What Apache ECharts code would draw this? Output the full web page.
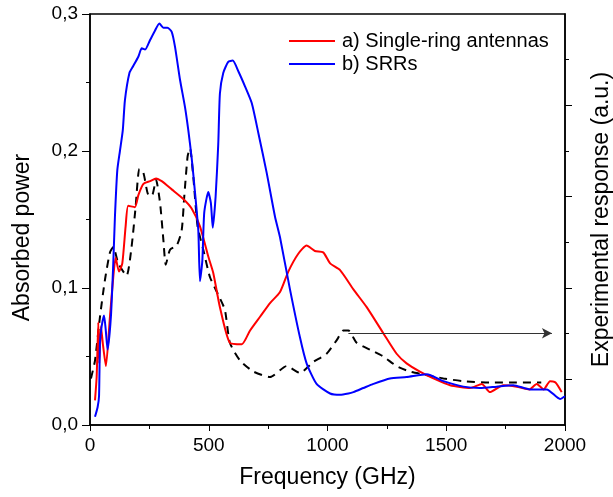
<!DOCTYPE html>
<html>
<head>
<meta charset="utf-8">
<script src="https://cdn.jsdelivr.net/npm/echarts@6/dist/echarts.min.js"></script>
<style>
  html, body { margin: 0; padding: 0; background: #fff; }
  #chart { width: 613px; height: 497px; }
</style>
</head>
<body>
<div id="chart"></div>
<script>
// frequency (GHz) / absorbed power
let redFreq = [21, 28, 35, 39, 46, 55, 67, 84, 98, 108, 122, 136, 150, 161, 189, 204, 225, 253, 278, 302, 344, 393, 428, 463, 498, 519, 547, 589, 639, 674, 716, 758, 800, 835, 877, 912, 947, 982, 1011, 1053, 1109, 1165, 1235, 1291, 1333, 1389, 1446, 1516, 1600, 1650, 1684, 1740, 1796, 1850, 1881, 1910, 1937, 1960, 1986];
let redVal = [0.018, 0.035, 0.075, 0.045, 0.072, 0.058, 0.043, 0.079, 0.108, 0.122, 0.112, 0.118, 0.145, 0.160, 0.159, 0.168, 0.176, 0.178, 0.180, 0.178, 0.172, 0.165, 0.158, 0.145, 0.123, 0.111, 0.086, 0.060, 0.059, 0.069, 0.079, 0.089, 0.097, 0.112, 0.125, 0.131, 0.127, 0.126, 0.118, 0.113, 0.099, 0.086, 0.067, 0.052, 0.045, 0.039, 0.034, 0.029, 0.027, 0.030, 0.024, 0.029, 0.028, 0.026, 0.030, 0.026, 0.032, 0.031, 0.024];

let blueFreq = [21, 32, 38, 42, 49, 59, 66, 74, 88, 98, 105, 115, 126, 138, 147, 166, 182, 204, 218, 232, 253, 274, 292, 309, 326, 344, 358, 379, 400, 414, 428, 442, 456, 463, 473, 481, 498, 509, 517, 529, 540, 547, 561, 582, 601, 625, 653, 681, 709, 744, 779, 800, 842, 884, 912, 954, 1011, 1053, 1088, 1109, 1151, 1193, 1263, 1333, 1418, 1488, 1572, 1642, 1712, 1782, 1853, 1923, 1979, 2000];
let blueVal = [0.006, 0.013, 0.021, 0.060, 0.072, 0.080, 0.070, 0.055, 0.079, 0.118, 0.152, 0.186, 0.200, 0.215, 0.237, 0.257, 0.262, 0.269, 0.275, 0.274, 0.281, 0.288, 0.293, 0.290, 0.290, 0.287, 0.276, 0.252, 0.232, 0.215, 0.195, 0.170, 0.142, 0.105, 0.120, 0.155, 0.170, 0.162, 0.144, 0.167, 0.205, 0.242, 0.257, 0.265, 0.266, 0.258, 0.247, 0.235, 0.213, 0.184, 0.152, 0.137, 0.099, 0.064, 0.045, 0.030, 0.023, 0.022, 0.023, 0.024, 0.027, 0.030, 0.034, 0.035, 0.037, 0.032, 0.028, 0.027, 0.028, 0.029, 0.026, 0.026, 0.019, 0.021];

// experimental response (a.u.), right axis
let expFreq = [4, 21, 42, 63, 84, 98, 119, 154, 175, 192, 208, 225, 243, 260, 278, 295, 309, 319, 337, 365, 386, 397, 411, 421, 435, 453, 477, 505, 540, 568, 589, 632, 688, 758, 828, 884, 940, 996, 1039, 1067, 1088, 1123, 1179, 1235, 1291, 1347, 1403, 1488, 1572, 1684, 1796, 1900];
let expVal = [1.02, 1.41, 2.37, 3.18, 3.78, 3.90, 3.54, 3.27, 3.90, 4.77, 5.61, 5.52, 5.07, 5.01, 5.37, 4.86, 4.05, 3.51, 3.84, 3.93, 4.26, 5.01, 5.88, 6.06, 5.43, 4.35, 3.84, 3.24, 2.85, 2.52, 1.80, 1.41, 1.17, 1.05, 1.29, 1.14, 1.38, 1.56, 1.86, 2.07, 2.07, 1.80, 1.65, 1.50, 1.29, 1.17, 1.11, 1.02, 0.96, 0.93, 0.93, 0.93];

// right axis ticks (no labels): long ones and short ones
let rightMajorTicks = [1, 3, 5, 7];
let rightMinorTicks = [2, 4, 6, 8];

// arrow pointing to the right axis
let arrowFrom = [1088, 2.01];
let arrowTo = [1945, 2.01];

let seriesNames = ["a) Single-ring antennas", "b) SRRs"];

function pairs(xs, ys) {
  return xs.map((x, i) => [x, ys[i]]);
}

let font = "Liberation Sans, Arial, sans-serif";
let myChart = echarts.init(document.getElementById("chart"));

myChart.setOption({
  animation: false,
  grid: {
    left: 90,
    right: 48,
    top: 14,
    bottom: 72,
    outerBoundsMode: "none",
    show: true,
    borderColor: "#000",
    borderWidth: 1.5
  },
  legend: {
    data: seriesNames,
    orient: "vertical",
    left: 284,
    top: 26,
    icon: "rect",
    itemWidth: 46,
    itemHeight: 2,
    itemGap: 3,
    textStyle: { fontFamily: font, fontSize: 20, color: "#000", padding: [0, 0, 0, 2] }
  },
  xAxis: {
    type: "value",
    min: 0,
    max: 2000,
    interval: 500,
    name: "Frequency (GHz)",
    nameLocation: "middle",
    nameGap: 41,
    nameTextStyle: { fontFamily: font, fontSize: 23, color: "#000" },
    axisLine: { show: true, lineStyle: { color: "#000", width: 1.5 } },
    axisTick: { show: true, length: 6, lineStyle: { color: "#000" } },
    minorTick: { show: true, splitNumber: 2, length: 4, lineStyle: { color: "#000" } },
    axisLabel: { fontFamily: font, fontSize: 19, color: "#000", margin: 11, formatter: v => String(v) },
    splitLine: { show: false }
  },
  yAxis: [
    {
      type: "value",
      min: 0,
      max: 0.3,
      interval: 0.1,
      name: "Absorbed power",
      nameLocation: "middle",
      nameGap: 56,
      nameTextStyle: { fontFamily: font, fontSize: 23, color: "#000", padding: [0, 36, 0, 0] },
      axisLine: { show: true, lineStyle: { color: "#000", width: 1.5 } },
      axisTick: { show: true, length: 8, lineStyle: { color: "#000" } },
      minorTick: { show: true, splitNumber: 2, length: 4, lineStyle: { color: "#000" } },
      axisLabel: {
        fontFamily: font, fontSize: 19, color: "#000", margin: 12,
        formatter: v => v.toFixed(1).replace(".", ",")
      },
      splitLine: { show: false }
    },
    {
      type: "value",
      min: 0,
      max: 9,
      position: "right",
      name: "Experimental response (a.u.)",
      nameLocation: "middle",
      nameGap: 25,
      nameRotate: 90,
      nameTextStyle: { fontFamily: font, fontSize: 23, color: "#000" },
      axisLine: { show: true, lineStyle: { color: "#000", width: 1.5 } },
      axisTick: { show: true, length: 7, customValues: rightMajorTicks, lineStyle: { color: "#000" } },
      axisLabel: { show: false },
      splitLine: { show: false }
    },
    {
      type: "value",
      min: 0,
      max: 9,
      position: "right",
      axisLine: { show: false },
      axisTick: { show: true, length: 4, customValues: rightMinorTicks, lineStyle: { color: "#000" } },
      axisLabel: { show: false },
      splitLine: { show: false }
    }
  ],
  series: [
    {
      name: seriesNames[0],
      type: "line",
      data: pairs(redFreq, redVal),
      symbol: "none",
      smooth: 0.2,
      lineStyle: { color: "#ff0000", width: 2 },
      itemStyle: { color: "#ff0000" },
      z: 3
    },
    {
      name: seriesNames[1],
      type: "line",
      data: pairs(blueFreq, blueVal),
      symbol: "none",
      smooth: 0.2,
      lineStyle: { color: "#0000ff", width: 2 },
      itemStyle: { color: "#0000ff" },
      z: 3
    },
    {
      name: "experiment",
      type: "line",
      yAxisIndex: 1,
      data: pairs(expFreq, expVal),
      symbol: "none",
      smooth: 0.2,
      lineStyle: { color: "#000", width: 2, type: [8, 6] },
      z: 2,
      markLine: {
        silent: true,
        symbol: ["none", "arrow"],
        symbolSize: [8, 10],
        label: { show: false },
        lineStyle: { color: "#333", width: 1, type: "solid" },
        data: [[{ coord: arrowFrom }, { coord: arrowTo }]]
      }
    }
  ]
});
</script>
</body>
</html>
